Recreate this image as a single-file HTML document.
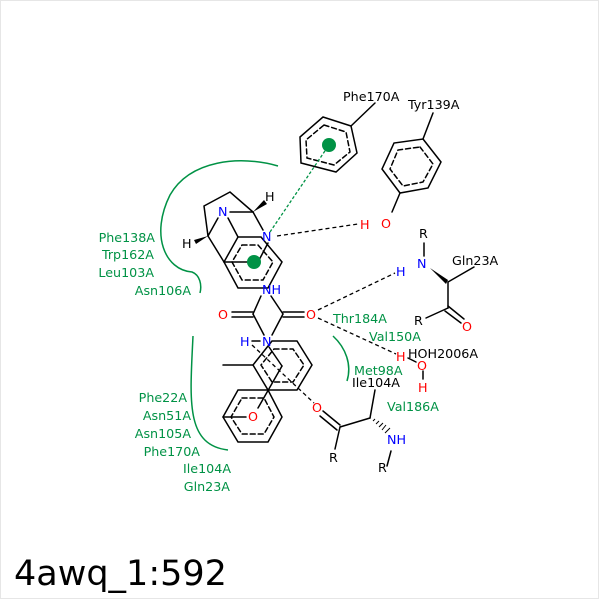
<!DOCTYPE html>
<html><head><meta charset="utf-8"><style>
html,body{margin:0;padding:0;background:#fff}
svg{display:block}
text{font-family:"DejaVu Sans","Liberation Sans",sans-serif;font-size:12.7px}
.g{fill:#009245}.k{fill:#000}.r{fill:#f00}.b{fill:#00f}
</style></head><body>
<svg width="600" height="600" viewBox="0 0 600 600" xmlns="http://www.w3.org/2000/svg">
<rect x="0.5" y="0.5" width="598" height="598" fill="#fff" stroke="#e6e6e6"/>
<g stroke="#000" stroke-width="1.5" fill="none" stroke-linecap="round">
<polygon points="323,117 351,126 357,153 336,172 301,163 300,137"/>
<polygon points="324,125 346,132 350,152 334,165 307,158 306,140" stroke-dasharray="5,3"/>
<line x1="351" y1="126" x2="375" y2="103"/>
<polygon points="423,139 441,162 428,188 400,193 382,169 394,143"/>
<polygon points="420,147 433,164 423,182 403,186 390,169 398,150" stroke-dasharray="5,3"/>
<line x1="423" y1="139" x2="433" y2="113"/>
<line x1="400" y1="193" x2="392" y2="212"/>
<polyline points="208,236 204,206 230,192 253,212"/>
<line x1="230" y1="212" x2="253" y2="212"/>
<line x1="228" y1="218" x2="238" y2="237"/>
<line x1="253" y1="212" x2="263" y2="230"/>
<line x1="208" y1="236" x2="224" y2="262"/>
<line x1="208" y1="236" x2="218" y2="218"/>
<polygon points="238,237 261,237 282,262 268,288 238,288 224,262"/>
<polygon points="242,245 258,245 273,262 263,280 242,280 232,262" stroke-dasharray="5,3"/>
<line x1="224" y1="262" x2="258" y2="262"/>
<line x1="258" y1="262" x2="268" y2="243"/>
<line x1="261" y1="296" x2="253" y2="314"/>
<line x1="271" y1="296" x2="283" y2="314"/>
<line x1="232" y1="312" x2="253" y2="312"/><line x1="232" y1="317" x2="253" y2="317"/>
<line x1="283" y1="312" x2="304" y2="312"/><line x1="283" y1="317" x2="304" y2="317"/>
<line x1="253" y1="314" x2="264" y2="335"/>
<line x1="283" y1="314" x2="272" y2="335"/>
<line x1="252" y1="341" x2="260" y2="341"/>
<polygon points="272,341 297,341 312,365 297,390 268,390 253,365"/>
<polygon points="274,349 293,349 304,365 293,382 272,382 261,365" stroke-dasharray="5,3"/>
<line x1="253" y1="365" x2="223" y2="365"/>
<line x1="269" y1="347" x2="282" y2="366"/>
<line x1="282" y1="366" x2="258" y2="408"/>
<polygon points="238,390 268,390 282,417 268,442 238,442 223,417"/>
<polygon points="242,398 264,398 274,417 264,434 242,434 231,417" stroke-dasharray="5,3"/>
<line x1="223" y1="417" x2="246" y2="417"/>
<line x1="323" y1="411" x2="340" y2="425"/><line x1="320" y1="416" x2="337" y2="430"/>
<line x1="340" y1="427" x2="335" y2="449"/>
<line x1="340" y1="427" x2="370" y2="418"/>
<line x1="370" y1="418" x2="375" y2="390"/>
<line x1="387" y1="466" x2="391" y2="451"/>
<line x1="424" y1="243" x2="424" y2="256"/>
<line x1="448" y1="282" x2="474" y2="267"/>
<line x1="448" y1="282" x2="448" y2="308"/>
<line x1="448" y1="308" x2="426" y2="318"/>
<line x1="448" y1="306" x2="464" y2="319"/><line x1="445" y1="311" x2="461" y2="323"/>
<line x1="423" y1="371" x2="423" y2="379"/>
<line x1="408" y1="358" x2="416" y2="362"/>
</g>
<polygon points="253,212 264,200 267,204" fill="#000"/>
<polygon points="208,236 194,240 196,244" fill="#000"/>
<polygon points="430,268 448,280 446,284" fill="#000"/>
<g stroke="#000" stroke-width="1">
<line x1="373" y1="421" x2="375" y2="419"/><line x1="376" y1="424" x2="379" y2="421"/><line x1="379" y1="427" x2="383" y2="423"/><line x1="382" y1="430" x2="386" y2="425"/><line x1="385" y1="433" x2="390" y2="428"/>
</g>
<g stroke="#000" stroke-width="1.3" stroke-dasharray="4,3" fill="none">
<line x1="277" y1="236" x2="358" y2="224"/>
<line x1="318" y1="310" x2="395" y2="273"/>
<line x1="318" y1="318" x2="396" y2="354"/>
<line x1="252" y1="345" x2="314" y2="403"/>
</g>
<line x1="270" y1="232" x2="329" y2="145" stroke="#009245" stroke-width="1.3" stroke-dasharray="3,2"/>
<circle cx="329" cy="145" r="7" fill="#009245"/>
<circle cx="254" cy="262" r="7" fill="#009245"/>
<g stroke="#009245" stroke-width="1.5" fill="none">
<path d="M278,166 C240,155 190,160 170,195 C150,235 165,270 192,272 C200,275 202,285 200,293"/>
<path d="M193,336 C190,400 185,445 228,450"/>
<path d="M333,336 C346,348 352,365 347,381"/>
</g>
<text x="343" y="101" class="k">Phe170A</text>
<text x="408" y="109" class="k">Tyr139A</text>
<text x="381" y="228" class="r">O</text>
<text x="360" y="229" class="r">H</text>
<text x="218" y="216" class="b">N</text>
<text x="262" y="241" class="b">N</text>
<text x="265" y="201" class="k">H</text>
<text x="182" y="248" class="k">H</text>
<text x="262" y="294" class="b">NH</text>
<text x="218" y="319" class="r">O</text>
<text x="306" y="319" class="r">O</text>
<text x="262" y="346" class="b">N</text>
<text x="240" y="346" class="b">H</text>
<text x="248" y="421" class="r">O</text>
<text x="312" y="412" class="r">O</text>
<text x="329" y="462" class="k">R</text>
<text x="387" y="444" class="b">NH</text>
<text x="378" y="472" class="k">R</text>
<text x="352" y="387" class="k">Ile104A</text>
<text x="419" y="238" class="k">R</text>
<text x="417" y="268" class="b">N</text>
<text x="396" y="276" class="b">H</text>
<text x="452" y="265" class="k">Gln23A</text>
<text x="414" y="325" class="k">R</text>
<text x="462" y="331" class="r">O</text>
<text x="396" y="361" class="r">H</text>
<text x="408" y="358" class="k">HOH2006A</text>
<text x="417" y="370" class="r">O</text>
<text x="418" y="392" class="r">H</text>
<g class="g" text-anchor="end">
<text x="155" y="242">Phe138A</text>
<text x="154" y="259">Trp162A</text>
<text x="154" y="277">Leu103A</text>
<text x="191" y="295">Asn106A</text>
<text x="187" y="402">Phe22A</text>
<text x="191" y="420">Asn51A</text>
<text x="191" y="438">Asn105A</text>
<text x="200" y="456">Phe170A</text>
<text x="231" y="473">Ile104A</text>
<text x="230" y="491">Gln23A</text>
</g>
<g class="g">
<text x="333" y="323">Thr184A</text>
<text x="369" y="341">Val150A</text>
<text x="354" y="375">Met98A</text>
<text x="387" y="411">Val186A</text>
</g>
<text x="14" y="585" style="font-size:35px" class="k">4awq_1:592</text>
</svg>
</body></html>
